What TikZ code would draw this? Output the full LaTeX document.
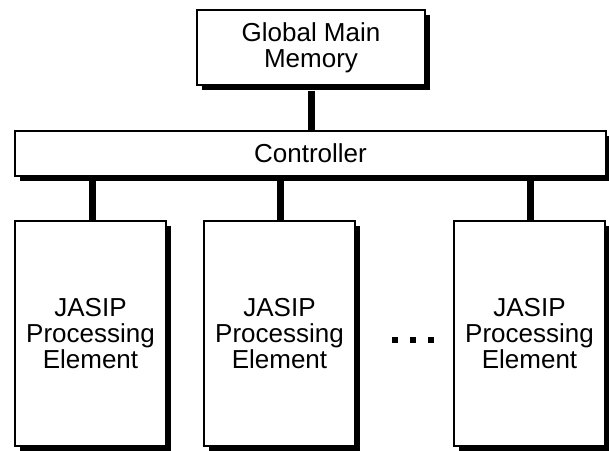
\documentclass[tikz,border=0pt]{standalone}
\usepackage{fontspec}
\setmainfont{Liberation Sans}
\usetikzlibrary{shadows}
\begin{document}
\begin{tikzpicture}[x=1pt,y=1pt,
  blockbox/.style={draw=black, line width=1.5pt, fill=white, inner sep=0pt,
    align=center, font=\fontsize{26}{26}\selectfont,
    drop shadow={shadow xshift=5pt, shadow yshift=-5pt, fill=black, opacity=1}},
  bus/.style={line width=7pt, black},
  dotsq/.style={fill=black, inner sep=0pt, minimum size=6.7pt}]
\useasboundingbox (0,0) rectangle (609,450);
\node[blockbox, minimum width=228pt, minimum height=75pt] (mem) at (311,402.5) {Global Main\\Memory};
\node[blockbox, minimum width=591pt, minimum height=45pt] (ctrl) at (310.5,296.5) {Controller};
\node[blockbox, minimum width=151pt, minimum height=225pt] (pe1) at (90.5,116.5) {JASIP\\Processing\\Element};
\node[blockbox, minimum width=151pt, minimum height=225pt] (pe2) at (279.5,116.5) {JASIP\\Processing\\Element};
\node[blockbox, minimum width=151pt, minimum height=225pt] (pe3) at (529.5,116.5) {JASIP\\Processing\\Element};
\draw[bus] ([yshift=-5pt]mem.south) -- (mem.south |- ctrl.north);
\draw[bus] ([xshift=1.5pt]pe1.north) -- ([xshift=1.5pt]pe1.north |- ctrl.south);
\draw[bus] ([xshift=0.5pt]pe2.north) -- ([xshift=0.5pt]pe2.north |- ctrl.south);
\draw[bus] ([xshift=0.5pt]pe3.north) -- ([xshift=0.5pt]pe3.north |- ctrl.south);
\node[dotsq] (d1) at (395,110) {};
\node[dotsq] (d2) at (413,110) {};
\node[dotsq] (d3) at (431,110) {};
\end{tikzpicture}
\end{document}
